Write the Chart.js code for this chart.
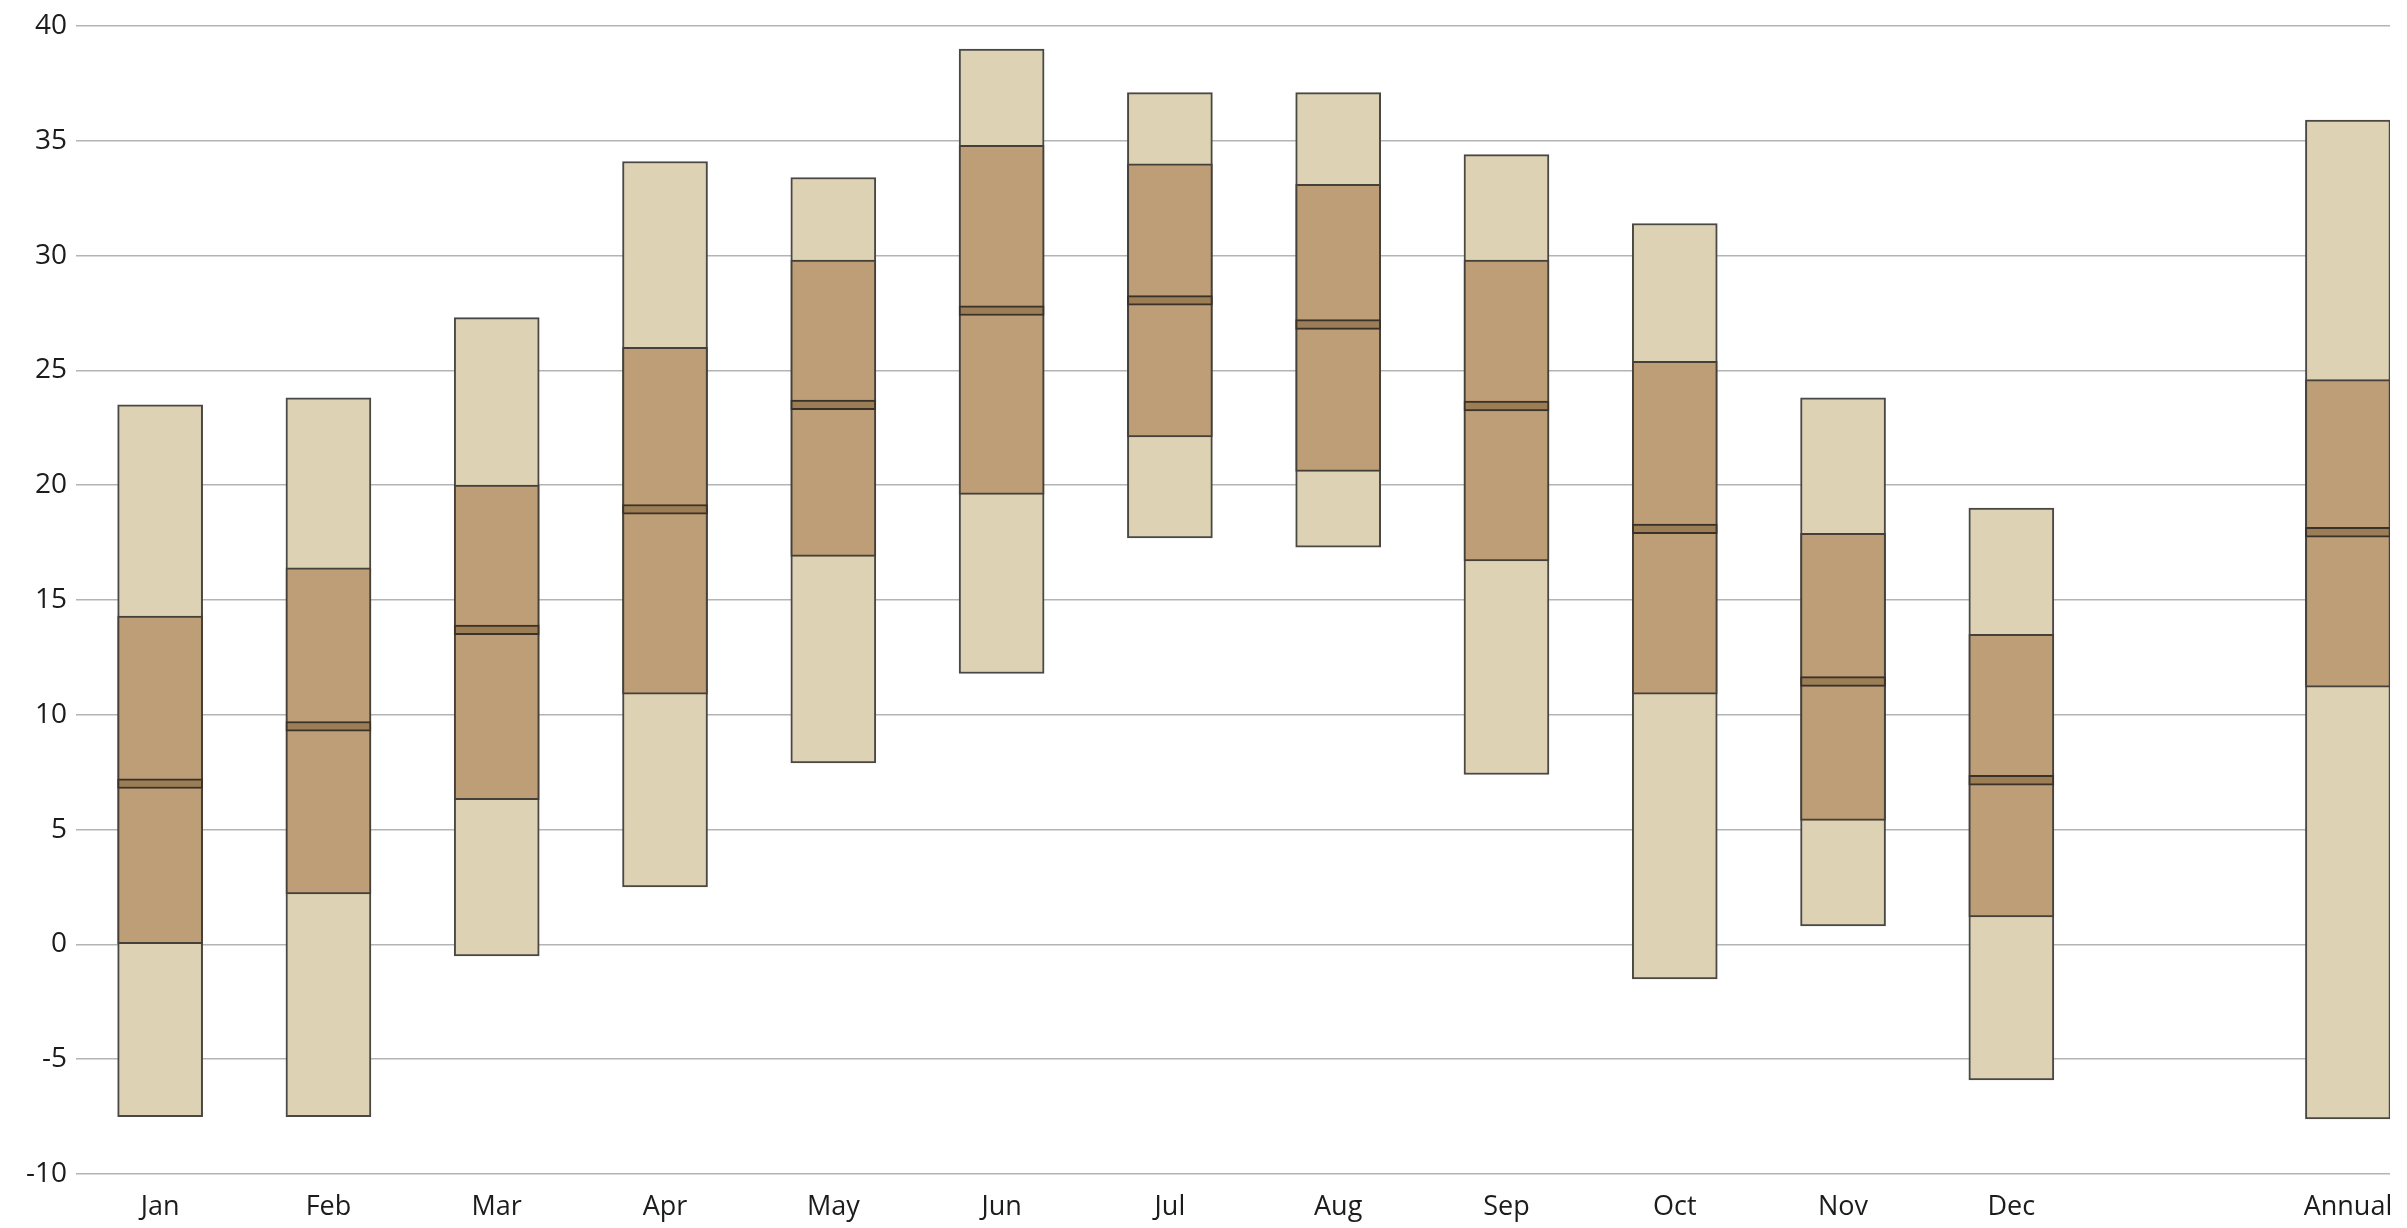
<!DOCTYPE html>
<html>
<head>
<meta charset="utf-8">
<title>Temperature ranges</title>
<script src="https://cdn.jsdelivr.net/npm/chart.js@4/dist/chart.umd.min.js"></script>
<style>
  html, body { margin: 0; padding: 0; background: #fff; overflow: hidden; }
  .chart-wrapper { width: 2407px; height: 1228px; }
</style>
</head>
<body>
<div class="chart-wrapper"><canvas id="myChart"></canvas></div>
<script>
// categories (blank slot between Dec and Annual)
const categories = ['Jan', 'Feb', 'Mar', 'Apr', 'May', 'Jun', 'Jul', 'Aug', 'Sep', 'Oct', 'Nov', 'Dec', '', 'Annual'];
// record low / high
const recordLow  = [-7.5, -7.5, -0.5,  2.5,  7.9, 11.8, 17.7, 17.3,  7.4, -1.5,  0.8, -5.9, null, -7.6];
const recordHigh = [23.5, 23.8, 27.3, 34.1, 33.4, 39.0, 37.1, 37.1, 34.4, 31.4, 23.8, 19.0, null, 35.9];
// mean daily minimum / maximum
const meanLow    = [ 0.0,  2.2,  6.3, 10.9, 16.9, 19.6, 22.1, 20.6, 16.7, 10.9,  5.4,  1.2, null, 11.2];
const meanHigh   = [14.3, 16.4, 20.0, 26.0, 29.8, 34.8, 34.0, 33.1, 29.8, 25.4, 17.9, 13.5, null, 24.6];
// daily mean
const meanTemp   = [ 7.0,  9.5, 13.7, 18.95, 23.5, 27.6, 28.05, 27.0, 23.45, 18.1, 11.45, 7.15, null, 17.95];
const yTicks = [-10, -5, 0, 5, 10, 15, 20, 25, 30, 35, 40];

function floating(lo, hi) {
    return categories.map((c, i) => ({ x: i, y: lo[i] === null ? null : [lo[i], hi[i]] }));
}
const bandHalf = 0.21;
const band = floating(meanTemp.map(v => v === null ? null : v - bandHalf),
                      meanTemp.map(v => v === null ? null : v + bandHalf));

let ctx = document.getElementById('myChart').getContext('2d');
let myChart = new Chart(ctx, {
    type: 'bar',
    data: {
        datasets: [{
            label: 'Mean',
            data: band,
            backgroundColor: '#9c7e56',
            borderColor: '#3a3128',
            borderWidth: 2,
            borderSkipped: false,
            order: 1
        }, {
            label: 'Mean min / max',
            data: floating(meanLow, meanHigh),
            backgroundColor: '#bd9e77',
            borderColor: '#45403a',
            borderWidth: 2,
            borderSkipped: false,
            order: 2
        }, {
            label: 'Record min / max',
            data: floating(recordLow, recordHigh),
            backgroundColor: '#ddd2b3',
            borderColor: '#4a4845',
            borderWidth: 2,
            borderSkipped: false,
            order: 3
        }]
    },
    options: {
        responsive: true,
        maintainAspectRatio: false,
        animation: false,
        grouped: false,
        barThickness: 85,
        layout: { padding: { top: 26, right: 17, left: 0, bottom: 0 } },
        plugins: { legend: { display: false }, tooltip: { enabled: false } },
        scales: {
            x: {
                type: 'linear',
                min: -0.5,
                max: 13.25,
                offset: false,
                grid: { display: false, offset: false },
                border: { display: false },
                afterBuildTicks: (scale) => {
                    scale.ticks = categories.map((c, i) => ({ value: i }));
                },
                afterFit: (scale) => { scale.height = 54; },
                ticks: {
                    autoSkip: false,
                    maxRotation: 0,
                    padding: 9,
                    color: '#1c1c1c',
                    font: { family: 'Open Sans', size: 27 },
                    callback: (value) => categories[value] || ''
                }
            },
            y: {
                min: -10,
                max: 40,
                afterBuildTicks: (scale) => {
                    scale.ticks = yTicks.map(v => ({ value: v }));
                },
                afterFit: (scale) => { scale.width = 76; },
                grid: { color: '#b4b4b4', lineWidth: 1.6, drawTicks: false },
                border: { display: false },
                ticks: {
                    padding: 9,
                    color: '#1c1c1c',
                    font: { family: 'Open Sans', size: 28 }
                }
            }
        }
    }
});
</script>
</body>
</html>
